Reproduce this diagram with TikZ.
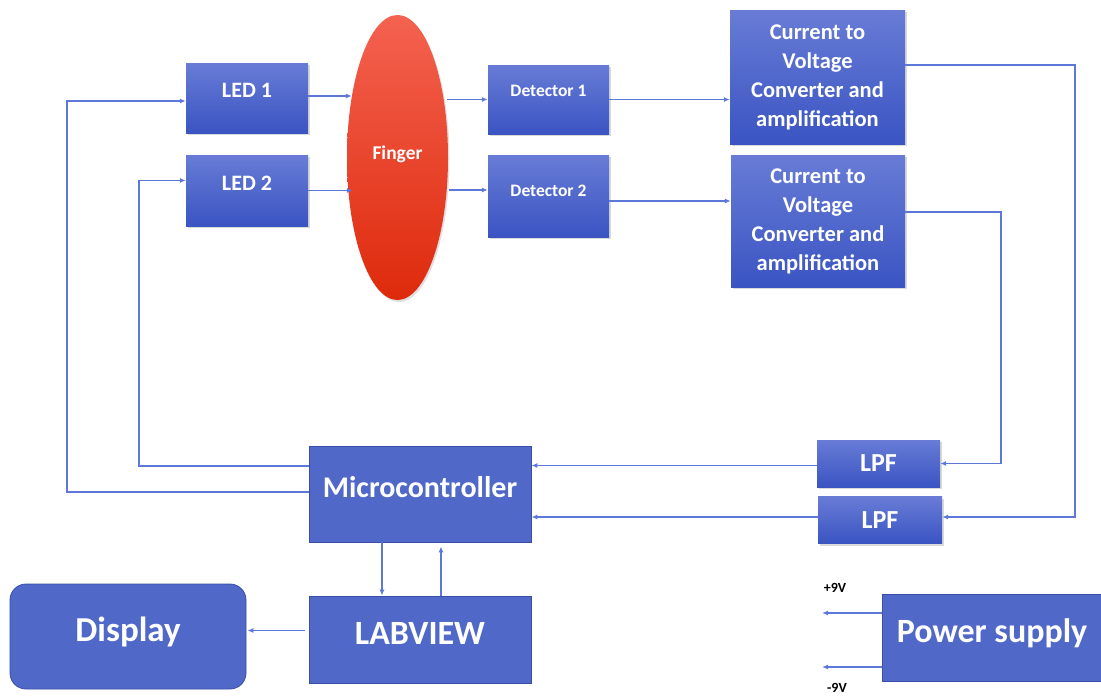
\documentclass[tikz,border=0pt]{standalone}
\usepackage{fontspec}
\setmainfont{Carlito}
\usepackage{xcolor}
\usepackage{tikz}
\usetikzlibrary{shapes.geometric, arrows.meta, positioning, shadows, calc}
\definecolor{blocktop}{RGB}{104,124,214}
\definecolor{blockbot}{RGB}{58,84,194}
\definecolor{blockflat}{RGB}{80,104,200}
\definecolor{blockedge}{RGB}{58,78,168}
\definecolor{fingertop}{RGB}{244,98,80}
\definecolor{fingerbot}{RGB}{222,42,12}
\definecolor{wire}{RGB}{94,120,218}
\tikzstyle{gradblock} = [rectangle, inner sep=0pt, text=white, font=\bfseries, top color=blocktop, bottom color=blockbot, draw=none, drop shadow={shadow xshift=1.5pt, shadow yshift=-2pt, opacity=0.3}]
\tikzstyle{flatblock} = [rectangle, inner sep=0pt, text=white, font=\bfseries, fill=blockflat, draw=blockedge, line width=0.8pt]
\tikzstyle{link} = [draw=wire, line width=1.2pt, -{Latex[length=6pt,width=5pt]}]

\begin{document}
\begin{tikzpicture}[
    x=1pt, y=-1pt,
    vlabel/.style={font=\bfseries\fontsize{14}{16}\selectfont, text=black, inner sep=0pt}
]
\useasboundingbox (0,0) rectangle (1101,696);

% Sensor side
\node[gradblock, minimum width=122pt, minimum height=70pt, text depth=16pt, font=\bfseries\fontsize{22}{24}\selectfont] (led1) at (247,98) {LED 1};
\node[gradblock, minimum width=122pt, minimum height=71pt, text depth=15pt, font=\bfseries\fontsize{22}{24}\selectfont] (led2) at (247,190.5) {LED 2};
\node[ellipse, inner sep=0pt, minimum width=101pt, minimum height=285pt, top color=fingertop, bottom color=fingerbot, text=white, text depth=10pt, font=\bfseries\fontsize{19.5}{22}\selectfont, drop shadow={shadow xshift=1.5pt, shadow yshift=-2pt, opacity=0.25}] (finger) at (397.5,157.5) {Finger};
\node[gradblock, minimum width=121pt, minimum height=69pt, text depth=17pt, font=\bfseries\fontsize{17.5}{20}\selectfont] (det1) at (548.5,99.5) {Detector 1};
\node[gradblock, minimum width=121pt, minimum height=82pt, text depth=10pt, font=\bfseries\fontsize{17.5}{20}\selectfont] (det2) at (548.5,196) {Detector 2};
\node[gradblock, minimum width=175pt, minimum height=134pt, align=center, font=\bfseries\fontsize{22.5}{29}\selectfont] (cvc1) at (817.5,77) {Current to\\Voltage\\Converter and\\amplification};
\node[gradblock, minimum width=174pt, minimum height=132pt, align=center, font=\bfseries\fontsize{22.5}{29}\selectfont] (cvc2) at (818,221) {Current to\\Voltage\\Converter and\\amplification};

% Filters and processing
\node[gradblock, minimum width=123pt, minimum height=47pt, font=\bfseries\fontsize{26}{28}\selectfont] (lpf1) at (878.5,463.5) {LPF};
\node[gradblock, minimum width=124pt, minimum height=47pt, font=\bfseries\fontsize{26}{28}\selectfont] (lpf2) at (880,520) {LPF};
\node[flatblock, minimum width=222pt, minimum height=96pt, text depth=14pt, font=\bfseries\fontsize{30}{32}\selectfont] (micro) at (420,494) {Microcontroller};
\node[flatblock, minimum width=222pt, minimum height=87pt, text depth=13pt, font=\bfseries\fontsize{34}{36}\selectfont] (labview) at (420,639.5) {LABVIEW};
\node[flatblock, rounded corners=16pt, minimum width=236pt, minimum height=105pt, text depth=15pt, font=\bfseries\fontsize{35}{37}\selectfont] (display) at (128,636.5) {Display};
\node[flatblock, minimum width=220pt, minimum height=87pt, text depth=13pt, font=\bfseries\fontsize{34}{36}\selectfont] (power) at (992,637.5) {Power supply};

% Supply outputs
\coordinate (vpos) at (822,613);
\coordinate (vneg) at (822,667);
\node[vlabel] (vposlbl) at (835,588) {+9V};
\node[vlabel] (vneglbl) at (837,688) {-9V};

% Bus columns
\coordinate (lbus1) at (67,0);
\coordinate (lbus2) at (139,0);
\coordinate (rbus1) at (1075,0);
\coordinate (rbus2) at (1001,0);

% Light path
\draw[link] ($(led1.east)+(0,-2)$) -- ($(finger.west |- led1.east)+(5,-2)$);
\draw[link] (led2.east) -- ($(finger.west |- led2.east)+(6,0)$);
\draw[link] ($(finger.east |- det1.west)+(-1,0)$) -- (det1.west);
\draw[link] ($(finger.east |- det2.west)+(1,-6)$) -- ($(det2.west)+(0,-6)$);

% Detector outputs
\draw[link] (det1.east) -- (cvc1.west |- det1.east);
\draw[link] ($(det2.east)+(0,5)$) -- ($(cvc2.west |- det2.east)+(0,5)$);

% Converter to filters
\draw[link] ($(cvc1.east)+(0,-12)$) -| ($(rbus1 |- lpf2.east)+(0,-3)$) -- ($(lpf2.east)+(0,-3)$);
\draw[link] ($(cvc2.east)+(0,-9)$) -| (rbus2 |- lpf1.east) -- (lpf1.east);
\draw[link] ($(lpf1.west)+(0,2)$) -- ($(micro.east |- lpf1.west)+(0,2)$);
\draw[link] ($(lpf2.west)+(0,-3)$) -- ($(micro.east |- lpf2.west)+(0,-3)$);

% LED drive
\draw[link] ($(micro.west)+(0,-2)$) -| ($(lbus1 |- led1.west)+(0,3)$) -- ($(led1.west)+(0,3)$);
\draw[link] ($(micro.west)+(0,-28)$) -| ($(lbus2 |- led2.west)+(0,-10)$) -- ($(led2.west)+(0,-10)$);

% Processing chain
\draw[link] ($(micro.south)+(-38,0)$) -- ($(labview.north)+(-38,0)$);
\draw[link] ($(labview.north)+(21,0)$) -- ($(micro.south)+(21,4)$);
\draw[link, shorten <=4pt] ($(labview.west)+(0,-9)$) -- ($(display.east |- labview.west)+(1,-9)$);
\draw[link] (power.west |- vpos) -- (vpos);
\draw[link] (power.west |- vneg) -- (vneg);

\end{tikzpicture}
\end{document}
